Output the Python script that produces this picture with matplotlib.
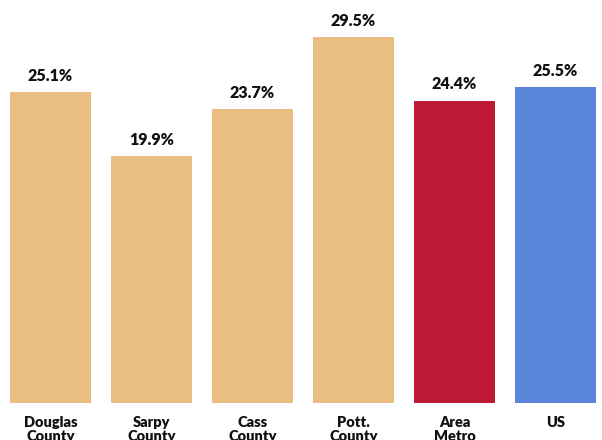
import matplotlib
matplotlib.use('Agg')
import matplotlib.pyplot as plt
import numpy as np

plt.rcParams['font.family'] = ['Lato', 'DejaVu Sans']

# Données
regions = ['Douglas\nCounty', 'Sarpy\nCounty', 'Cass\nCounty', 'Pott.\nCounty', 'Area\nMetro', 'US']
valeurs = [25.1, 19.9, 23.7, 29.5, 24.4, 25.5]
couleurs = ['#EABE82', '#EABE82', '#EABE82', '#EABE82', '#BE1A38', '#5A85DA']

fig = plt.figure(figsize=(6.02, 4.40), dpi=100)
ax = fig.add_axes([0, 37 / 440, 1, 403 / 440])

x = np.arange(len(regions))
barres = ax.bar(x, valeurs, width=0.8, color=couleurs, edgecolor='none')

# Etiquettes de valeur au-dessus des barres
for b, v in zip(barres, valeurs):
    ax.annotate(f'{v}%', (b.get_x() + b.get_width() / 2, v),
                xytext=(0, 6), textcoords='offset points',
                ha='center', va='bottom', fontsize=11.5, fontweight='heavy', color='#111111')

ax.set_xlim(-0.5, 5.46)
ax.set_ylim(0, 32.52)
ax.set_xticks(x)
ax.set_xticklabels(regions, fontsize=10.5, fontweight='heavy', color='#111111', linespacing=1.15)
ax.tick_params(axis='x', length=0, pad=9)
ax.set_yticks([])
for s in ax.spines.values():
    s.set_visible(False)

fig.savefig('out.png', dpi=100)
